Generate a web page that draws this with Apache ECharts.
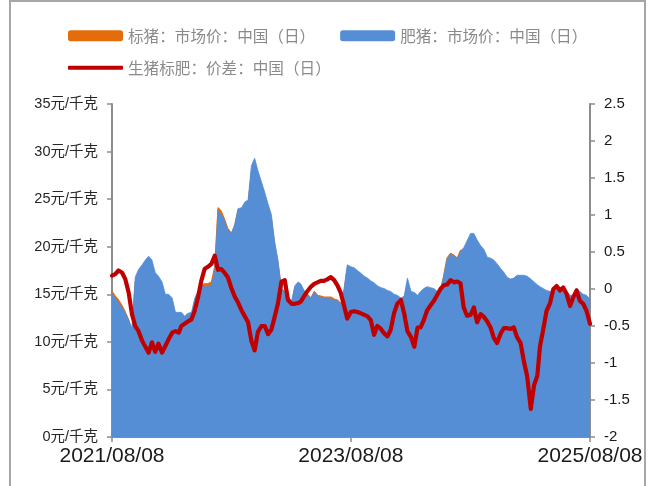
<!DOCTYPE html>
<html>
<head>
<meta charset="utf-8">
<script src="https://cdn.jsdelivr.net/npm/echarts@6/dist/echarts.min.js"></script>
<style>
  html, body { margin: 0; padding: 0; background: #fff; }
  #chart { width: 652px; height: 486px; }
</style>
</head>
<body>
<div id="chart"></div>
<script>
// ---- data ----
const dates = [
  '2021-08-08','2021-08-18','2021-08-28','2021-09-08','2021-09-18','2021-09-28','2021-10-08','2021-10-18','2021-10-28',
  '2021-11-08','2021-11-18','2021-11-28','2021-12-08','2021-12-18','2021-12-28',
  '2022-01-08','2022-01-18','2022-01-28','2022-02-08','2022-02-18','2022-02-28','2022-03-08','2022-03-18','2022-03-28',
  '2022-04-08','2022-04-18','2022-04-28','2022-05-08','2022-05-18','2022-05-28','2022-06-08','2022-06-18','2022-06-28',
  '2022-07-08','2022-07-18','2022-07-28','2022-08-08','2022-08-18','2022-08-28','2022-09-08','2022-09-18','2022-09-28',
  '2022-10-08','2022-10-18','2022-10-28','2022-11-08','2022-11-18','2022-11-28','2022-12-08','2022-12-18','2022-12-28',
  '2023-01-08','2023-01-18','2023-01-28','2023-02-08','2023-02-18','2023-02-28','2023-03-08','2023-03-18','2023-03-28',
  '2023-04-08','2023-04-18','2023-04-28','2023-05-08','2023-05-18','2023-05-28','2023-06-08','2023-06-18','2023-06-28',
  '2023-07-08','2023-07-18','2023-07-28','2023-08-08','2023-08-18','2023-08-28','2023-09-08','2023-09-18','2023-09-28',
  '2023-10-08','2023-10-18','2023-10-28','2023-11-08','2023-11-18','2023-11-28','2023-12-08','2023-12-18','2023-12-28',
  '2024-01-08','2024-01-18','2024-01-28','2024-02-08','2024-02-18','2024-02-28','2024-03-08','2024-03-18','2024-03-28',
  '2024-04-08','2024-04-18','2024-04-28','2024-05-08','2024-05-18','2024-05-28','2024-06-08','2024-06-18','2024-06-28',
  '2024-07-08','2024-07-18','2024-07-28','2024-08-08','2024-08-18','2024-08-28','2024-09-08','2024-09-18','2024-09-28',
  '2024-10-08','2024-10-18','2024-10-28','2024-11-08','2024-11-18','2024-11-28','2024-12-08','2024-12-18','2024-12-28',
  '2025-01-08','2025-01-18','2025-01-28','2025-02-08','2025-02-18','2025-02-28','2025-03-08','2025-03-18','2025-03-28',
  '2025-04-08','2025-04-18','2025-04-28','2025-05-08','2025-05-18','2025-05-28','2025-06-08','2025-06-18','2025-06-28',
  '2025-07-08','2025-07-18','2025-07-28','2025-08-08'
];

// 肥猪：市场价：中国（日）  元/千克
const fatPig = [
  15.1,14.6,14.1,13.6,13.0,12.3,11.4,16.8,17.6,
  18.1,18.6,19.0,18.6,17.3,16.9,
  16.3,15.0,15.0,14.6,13.1,13.1,13.1,12.7,13.0,
  13.1,14.6,15.3,15.8,15.8,15.8,16.0,17.4,23.8,
  23.4,22.7,21.7,21.4,22.3,24.0,24.1,24.7,24.9,
  28.5,29.3,28.0,26.8,25.7,24.5,23.4,20.6,18.6,
  15.5,15.2,14.8,14.3,15.9,16.3,16.1,15.4,15.0,
  14.6,15.2,14.8,14.7,14.6,14.6,14.5,14.4,14.3,
  14.0,15.5,18.1,17.9,17.8,17.5,17.2,16.9,16.7,
  16.4,16.2,15.9,15.7,15.6,15.4,15.3,15.0,14.9,
  14.6,14.8,16.7,15.3,15.2,14.9,15.3,15.6,15.8,
  15.7,15.6,15.3,15.4,16.9,18.7,19.2,19.0,18.7,
  19.5,19.9,20.6,21.4,21.4,20.7,20.1,19.7,18.9,
  18.8,18.6,18.2,17.7,17.3,16.8,16.6,16.7,17.0,
  17.0,17.0,16.9,16.6,16.3,16.0,15.8,15.6,15.4,
  15.3,15.5,15.8,15.7,15.5,15.3,14.9,14.9,15.6,
  15.3,15.0,14.9,14.5
];

// 标猪：市场价：中国（日）  元/千克
const stdPig = [
  15.3,14.8,14.4,13.8,13.1,12.3,11.1,16.3,17.0,
  17.4,17.8,18.1,17.9,16.5,16.2,
  15.4,14.2,14.3,14.0,12.5,12.5,12.6,12.2,12.6,
  12.7,14.3,15.2,15.9,16.1,16.1,16.3,17.9,24.1,
  23.7,22.9,21.9,21.4,22.2,23.8,23.8,24.3,24.5,
  27.8,28.5,27.4,26.3,25.2,23.9,22.9,20.2,18.4,
  15.6,15.3,14.7,14.1,15.7,16.1,15.9,15.3,15.0,
  14.6,15.3,14.9,14.8,14.7,14.7,14.7,14.5,14.4,
  14.0,15.3,17.7,17.6,17.5,17.2,16.9,16.6,16.3,
  16.0,15.6,15.4,15.2,15.0,14.8,14.8,14.7,14.7,
  14.5,14.5,16.1,14.7,14.4,14.4,14.8,15.2,15.5,
  15.5,15.4,15.2,15.4,17.0,18.8,19.3,19.1,18.8,
  19.6,19.7,20.2,21.1,21.2,20.3,19.8,19.3,18.5,
  18.3,17.9,17.5,17.1,16.8,16.3,16.1,16.2,16.4,
  16.3,16.0,15.7,15.0,15.0,14.8,15.0,15.1,15.1,
  15.1,15.5,15.8,15.7,15.5,15.2,14.7,14.8,15.6,
  15.1,14.8,14.6,14.0
];

// 生猪标肥：价差：中国（日）  右轴
const spread = [
  0.18,0.20,0.25,0.22,0.13,-0.05,-0.34,-0.50,-0.57,
  -0.70,-0.78,-0.86,-0.72,-0.85,-0.74,
  -0.86,-0.77,-0.68,-0.59,-0.57,-0.59,-0.50,-0.47,-0.44,
  -0.41,-0.29,-0.11,0.11,0.27,0.30,0.34,0.45,0.26,
  0.27,0.22,0.16,0.01,-0.10,-0.18,-0.29,-0.37,-0.45,
  -0.70,-0.83,-0.58,-0.50,-0.50,-0.61,-0.55,-0.38,-0.20,
  0.10,0.12,-0.15,-0.20,-0.20,-0.19,-0.17,-0.10,-0.03,
  0.03,0.07,0.09,0.11,0.11,0.13,0.16,0.12,0.05,
  -0.05,-0.22,-0.40,-0.31,-0.30,-0.31,-0.33,-0.35,-0.37,
  -0.42,-0.62,-0.50,-0.54,-0.60,-0.64,-0.55,-0.33,-0.20,
  -0.15,-0.33,-0.57,-0.65,-0.78,-0.52,-0.52,-0.42,-0.29,
  -0.22,-0.16,-0.08,0.00,0.05,0.06,0.12,0.09,0.10,
  0.08,-0.25,-0.36,-0.35,-0.25,-0.45,-0.34,-0.38,-0.44,
  -0.52,-0.66,-0.73,-0.60,-0.53,-0.53,-0.54,-0.52,-0.65,
  -0.73,-0.98,-1.18,-1.62,-1.30,-1.17,-0.78,-0.55,-0.30,
  -0.19,0.00,0.04,-0.02,0.02,-0.06,-0.23,-0.11,-0.02,
  -0.16,-0.20,-0.29,-0.47
];

const xLabelDates = ['2021/08/08', '2023/08/08', '2025/08/08'];
const seriesNames = ['标猪：市场价：中国（日）', '肥猪：市场价：中国（日）', '生猪标肥：价差：中国（日）'];

// ---- chart ----
function toTs(s) { const p = s.split(/[-\/]/).map(Number); return new Date(p[0], p[1] - 1, p[2]).getTime(); }
function pad(n) { return (n < 10 ? '0' : '') + n; }
const labelTs = xLabelDates.map(toTs);
const pairs = (vals) => dates.map((d, i) => [toTs(d), vals[i]]);

const axisGray = '#8c8c8c';
const chart = echarts.init(document.getElementById('chart'), null, { renderer: 'canvas' });
chart.setOption({
  animation: false,
  backgroundColor: '#fff',
  graphic: [{
    type: 'rect', silent: true, z: -1,
    shape: { x: 10, y: 1, width: 635, height: 500 },
    style: { fill: 'none', stroke: '#a6a6a6', lineWidth: 2 }
  }],
  legend: [{
    data: [seriesNames[0], seriesNames[1]],
    left: 63, top: 23, orient: 'horizontal',
    itemWidth: 55, itemHeight: 11, itemGap: 25, icon: 'roundRect',
    selectedMode: false,
    textStyle: { fontFamily: "'Noto Sans CJK SC'", fontSize: 15.6, color: '#8a8a8a' }
  }, {
    data: [seriesNames[2]],
    left: 63, top: 55, orient: 'horizontal',
    itemWidth: 55, itemHeight: 4, icon: 'roundRect',
    selectedMode: false,
    textStyle: { fontFamily: "'Noto Sans CJK SC'", fontSize: 15.6, color: '#8a8a8a' }
  }],
  grid: { left: 112, right: 62, top: 104, bottom: 49, containLabel: false },
  xAxis: {
    type: 'value',
    min: toTs('2021-08-08'), max: toTs('2025-08-08'),
    axisLine: { show: true, onZero: false, lineStyle: { color: axisGray, width: 2 } },
    axisTick: { show: true, customValues: labelTs, length: 5, inside: false, lineStyle: { color: axisGray, width: 1.5 } },
    axisLabel: {
      customValues: labelTs, margin: 9,
      fontFamily: "'Liberation Sans', Arial, sans-serif", fontSize: 21, color: '#1a1a1a',
      formatter: function (v) { const d = new Date(v); return d.getFullYear() + '/' + pad(d.getMonth() + 1) + '/' + pad(d.getDate()); }
    },
    splitLine: { show: false }
  },
  yAxis: [{
    type: 'value', min: 0, max: 35, interval: 5, position: 'left',
    axisLine: { show: true, lineStyle: { color: axisGray, width: 2 } },
    axisTick: { show: true, length: 5, lineStyle: { color: axisGray, width: 1.5 } },
    axisLabel: {
      margin: 14, formatter: '{value}元/千克',
      fontFamily: "'Liberation Sans', 'Noto Sans CJK SC', sans-serif", fontSize: 14.5, color: '#262626'
    },
    splitLine: { show: false }
  }, {
    type: 'value', min: -2, max: 2.5, interval: 0.5, position: 'right',
    axisLine: { show: true, lineStyle: { color: axisGray, width: 2 } },
    axisTick: { show: true, length: 5, lineStyle: { color: axisGray, width: 1.5 } },
    axisLabel: {
      margin: 14,
      fontFamily: "'Liberation Sans', Arial, sans-serif", fontSize: 15, color: '#1a1a1a'
    },
    splitLine: { show: false }
  }],
  series: [{
    name: seriesNames[0], type: 'line', yAxisIndex: 0,
    data: pairs(stdPig), showSymbol: false, symbol: 'none',
    itemStyle: { color: '#E46C0A' },
    lineStyle: { color: '#E46C0A', width: 1.2 },
    areaStyle: { color: '#E46C0A', opacity: 1 },
    z: 1
  }, {
    name: seriesNames[1], type: 'line', yAxisIndex: 0,
    data: pairs(fatPig), showSymbol: false, symbol: 'none',
    itemStyle: { color: '#558ED5' },
    lineStyle: { color: '#558ED5', width: 0.8 },
    areaStyle: { color: '#558ED5', opacity: 1 },
    z: 2
  }, {
    name: seriesNames[2], type: 'line', yAxisIndex: 1,
    data: pairs(spread), showSymbol: false, symbol: 'none',
    itemStyle: { color: '#C00000' },
    lineStyle: { color: '#C00000', width: 4.2, join: 'round', cap: 'round' },
    z: 3
  }]
});
</script>
</body>
</html>
